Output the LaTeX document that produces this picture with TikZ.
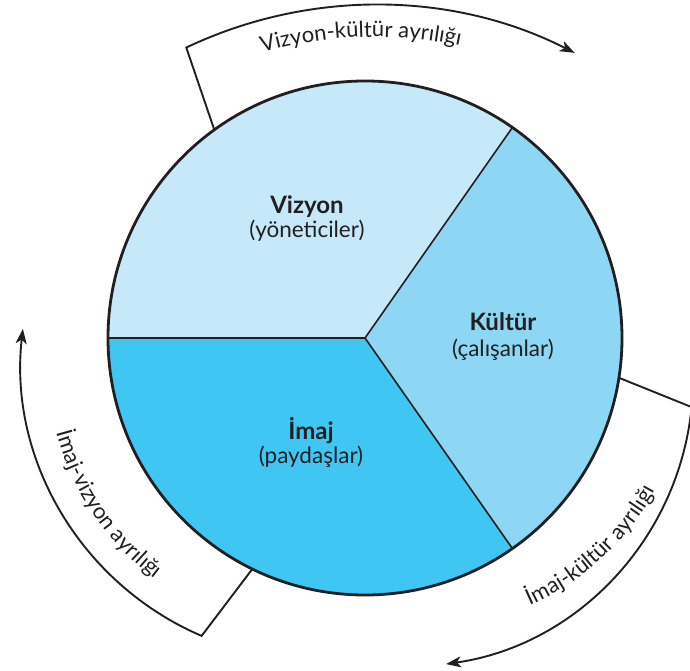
\documentclass[tikz,border=0pt]{standalone}
\usepackage{fontspec}
\setmainfont{Lato}
\usetikzlibrary{arrows.meta,decorations.text,calc}

\definecolor{vizyonfill}{HTML}{C6E9F9}
\definecolor{kulturfill}{HTML}{8DD7F5}
\definecolor{imajfill}{HTML}{40C6F2}
\definecolor{ink}{HTML}{231F20}

\newcommand{\labelfont}{\fontsize{22}{25}\selectfont\color{ink}}

\begin{document}
\begin{tikzpicture}[x=1pt,y=1pt,
  divider/.style={draw=ink, line width=1.6pt, line join=round},
  rim/.style={draw=ink, line width=2.8pt},
  gaparrow/.style={draw=ink, line width=1.9pt, line join=miter,
    -{Stealth[length=15pt,width=11pt,inset=4pt]}},
  heading/.style={font=\fontsize{24}{27}\selectfont\bfseries, text=ink, anchor=base, inner sep=0pt},
  role/.style={font=\fontsize{22.5}{25}\selectfont, text=ink, anchor=base, inner sep=0pt},
  arctext/.style={decorate, decoration={text along path, text align=center, text={#1}}}
]
\useasboundingbox (0,0) rectangle (690,670);

% pie centre, radius and the three division points on the rim
\coordinate (O) at (365,332);
\def\R{257}
\coordinate (pA) at ($(O)+(55:\R)$);
\coordinate (pB) at ($(O)+(180:\R)$);
\coordinate (pC) at ($(O)+(-55:\R)$);

% sectors
\fill[vizyonfill] (O) -- (pA) arc[start angle=55, end angle=180, radius=\R] -- cycle;
\fill[imajfill] (O) -- (pB) arc[start angle=180, end angle=305, radius=\R] -- cycle;
\fill[kulturfill] (O) -- (pC) arc[start angle=-55, end angle=55, radius=\R] -- cycle;
\draw[divider] (pA) -- (O) -- (pB) (O) -- (pC);
\draw[rim] (O) circle[radius=\R];

% sector labels
\node[heading] (vizT) at (307,456) {Vizyon};
\node[role] (vizR) at (307,432.5) {(yöneticiler)};
\node[heading] (kulT) at (503,339) {Kültür};
\node[role] (kulR) at (503,314) {(çalışanlar)};
\node[heading] (imT) at (311,231) {İmaj};
\node[role] (imR) at (311,207) {(paydaşlar)};

% centres of the three gap arrows
\coordinate (tc) at (375,225);
\coordinate (lc) at (319,308);
\coordinate (rc) at (405,291);
% centre of the circle carrying the lower right caption
\coordinate (rt) at (423,307);

% bracket feet on the rim and bracket corners
\coordinate (tFoot) at ($(O)+(125.9:\R)$);
\coordinate (tCorner) at ($(tc)+(115.4:440)$);
\coordinate (lFoot) at ($(O)+(244:\R)$);
\coordinate (lCorner) at ($(lc)+(246.8:298)$);
\coordinate (rFoot) at ($(O)+(-8.9:\R)$);
\coordinate (rCorner) at ($(rc)+(-5.6:288)$);

% gap arrows
\draw[gaparrow] (tFoot) -- (tCorner) arc[start angle=115.4, end angle=63, radius=440];
\draw[gaparrow] (lFoot) -- (lCorner) arc[start angle=246.8, end angle=173.6, radius=298];
\draw[gaparrow] (rFoot) -- (rCorner) arc[start angle=-5.6, end angle=-81.8, radius=288];

% arrow captions set along the arcs
\path[arctext={|\labelfont|Vizyon-kültür ayrılığı}]
  ($(tc)+(135:408)$) arc[start angle=135, end angle=49, radius=408];
\path[arctext={|\labelfont|İmaj-vizyon ayrılığı}]
  ($(lc)+(170:272)$) arc[start angle=170, end angle=258, radius=272];
\path[arctext={|\labelfont|İmaj-kültür ayrılığı}]
  ($(rt)+(-95:265)$) arc[start angle=-95, end angle=0, radius=265];
\end{tikzpicture}
\end{document}
